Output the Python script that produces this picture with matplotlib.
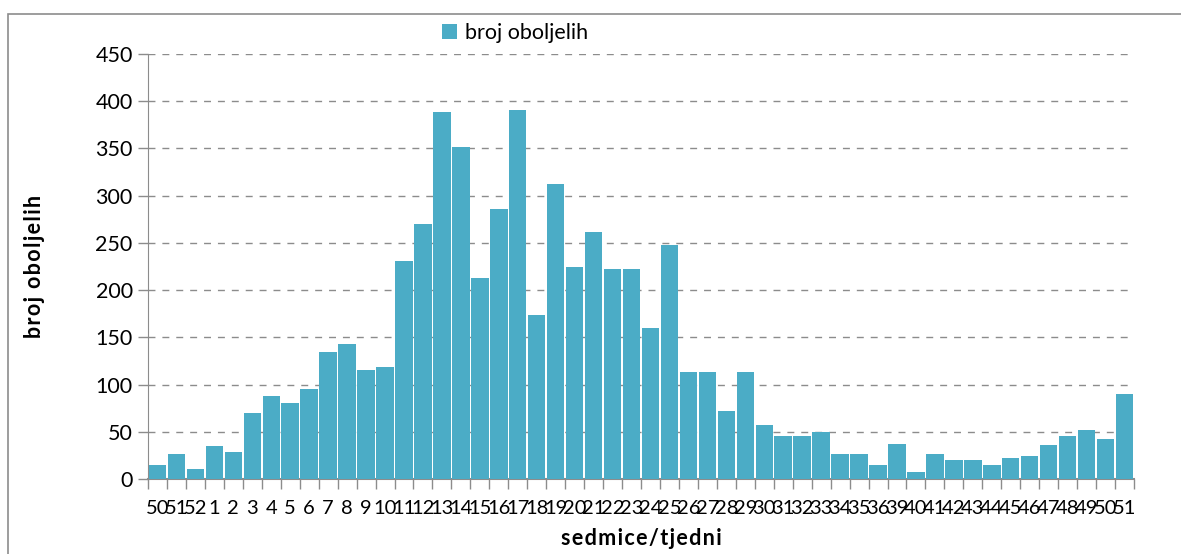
import numpy as np
import matplotlib
matplotlib.use('Agg')
import matplotlib.pyplot as plt
from matplotlib.patches import Rectangle

# weekly case counts
weeks = ['50', '51', '52', '1', '2', '3', '4', '5', '6', '7', '8', '9', '10',
         '11', '12', '13', '14', '15', '16', '17', '18', '19', '20', '21', '22',
         '23', '24', '25', '26', '27', '28', '29', '30', '31', '32', '33', '34',
         '35', '36', '39', '40', '41', '42', '43', '44', '45', '46', '47', '48',
         '49', '50', '51']
cases = [15, 26, 11, 35, 29, 70, 88, 81, 95, 134, 143, 115, 119,
         231, 270, 389, 352, 213, 286, 391, 174, 312, 225, 262, 222,
         222, 160, 248, 113, 113, 72, 113, 57, 46, 46, 50, 26,
         26, 15, 37, 7, 26, 20, 20, 15, 22, 24, 36, 46,
         52, 42, 90]
yticks = [0, 50, 100, 150, 200, 250, 300, 350, 400, 450]

plt.rcParams['font.family'] = ['Lato', 'DejaVu Sans']
bar_color = '#4BACC6'
grid_color = '#8c8c8c'


def spaced(s):
    # Excel-style letter spacing on axis titles
    return '\u200a'.join(s)


fig = plt.figure(figsize=(11.81, 5.54), dpi=100)
ax = fig.add_axes([148/1181, 1 - 479/554, (1134 - 148)/1181, (479 - 54)/554])

x = np.arange(len(cases))
ax.bar(x, cases, width=0.92, color=bar_color, label='broj oboljelih', zorder=3)

ax.set_xlim(-0.5, len(cases) - 0.5)
ax.set_ylim(0, 450)
ax.set_yticks(yticks)
ax.set_yticklabels([str(v) for v in yticks], fontsize=15.5)
ax.set_xticks(x)
ax.set_xticklabels(weeks, fontsize=14.5)
ax.set_xticks(np.arange(len(cases) + 1) - 0.5, minor=True)
ax.tick_params(axis='x', which='major', length=0, pad=15)
ax.tick_params(axis='x', which='minor', length=7, color=grid_color, width=1)
ax.tick_params(axis='y', length=7, color=grid_color, width=1, pad=4)

for v in yticks[1:]:
    ax.axhline(v, color=grid_color, lw=1, ls=(0, (5, 5)), zorder=1)

for s in ['top', 'right']:
    ax.spines[s].set_visible(False)
ax.spines['left'].set_color(grid_color)
ax.spines['bottom'].set_color(grid_color)
ax.spines['bottom'].set_linewidth(1.5)

ax.set_ylabel(spaced('broj oboljelih'), fontsize=15.5, fontweight='bold', labelpad=36)
ax.set_xlabel(spaced('sedmice/tjedni'), fontsize=15.5, fontweight='bold', labelpad=8)

leg = fig.legend(loc='center', bbox_to_anchor=(515/1181, 1 - 33/554), frameon=False,
                 fontsize=15.5, handlelength=0.7, handleheight=0.7, handletextpad=0.4)

# outer chart border
fig.patches.append(Rectangle((8/1181, -0.1), 1.2, 1 - 14/554 + 0.1,
                             transform=fig.transFigure, fill=False,
                             edgecolor='#8c8c8c', lw=1.2))

fig.savefig('out.png', dpi=100)
